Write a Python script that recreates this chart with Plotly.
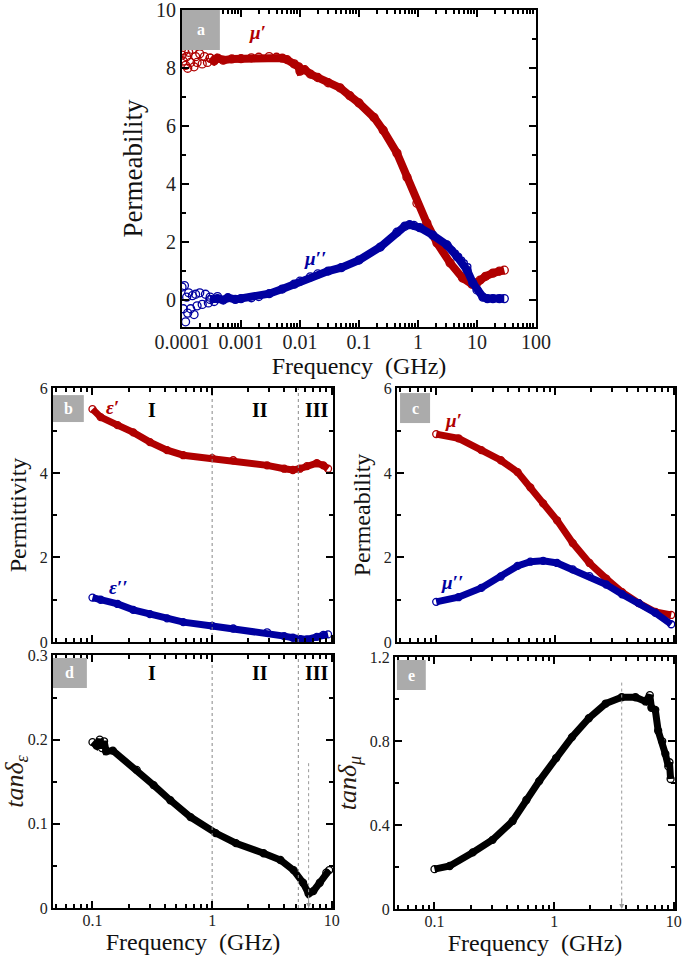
import numpy as np
import plotly.graph_objects as go

RED = "#B00000"
BLUE = "#0000A0"
SERIF = "Liberation Serif"
W, H = 685, 957

# ---------------- Panel a : permeability, wide band ----------------
a_re_noise_f = [0.0001, 0.000105, 0.00011, 0.000115, 0.00012, 0.000125, 0.00013, 0.00014,
                0.00015, 0.00016, 0.00017, 0.00018, 0.0002, 0.00022, 0.00024, 0.00027, 0.0003]
a_re_noise = [8.45, 8.25, 8.6, 8.1, 8.4, 8.0, 8.55, 8.2, 8.65, 8.05, 8.4, 8.2, 8.5, 8.15, 8.4, 8.2, 8.35]
a_re_f = [0.0003, 0.00035, 0.0004, 0.0005, 0.0007, 0.001, 0.0015, 0.002, 0.003, 0.004, 0.005,
          0.006, 0.008, 0.0095, 0.01, 0.012, 0.015, 0.02, 0.03, 0.048, 0.07, 0.1, 0.18, 0.257,
          0.44, 0.65, 0.96, 1.41, 2.1, 3.5, 5.7, 8.2, 10, 11.3, 14, 18.6, 24, 29]
a_re = [8.35, 8.25, 8.35, 8.28, 8.32, 8.33, 8.36, 8.38, 8.4, 8.38, 8.35,
        8.3, 8.15, 8.05, 7.9, 7.95, 7.8, 7.68, 7.5, 7.32, 7.05, 6.8, 6.3, 5.86,
        5.07, 4.24, 3.34, 2.66, 1.97, 1.28, 0.76, 0.55, 0.6, 0.69, 0.82, 0.93, 1.0, 1.03]

a_im_noise_f = [0.0001, 0.000105, 0.00011, 0.000115, 0.00012, 0.000125, 0.00013, 0.00014,
                0.00015, 0.00016, 0.00017, 0.00018, 0.0002, 0.00022, 0.00025, 0.00028, 0.0003,
                0.00035, 0.0004]
a_im_noise = [0.45, -0.3, 0.5, -0.75, 0.1, -0.45, 0.25, -0.3, 0.15, -0.5, 0.2, -0.2, 0.25,
              -0.15, 0.2, -0.1, 0.1, -0.05, 0.12]
a_im_f = [0.0003, 0.0004, 0.0005, 0.0006, 0.0008, 0.001, 0.0015, 0.002, 0.003, 0.005, 0.008, 0.01,
          0.015, 0.02, 0.03, 0.05, 0.1, 0.23, 0.44, 0.6, 0.72, 0.85, 1.07, 1.78, 3.1, 4.6,
          6.8, 8.5, 10, 12.6, 15, 18.6, 24, 29]
a_im = [0.02, 0.05, 0.0, 0.08, 0.02, 0.05, 0.08, 0.12, 0.22, 0.38, 0.55, 0.65,
        0.8, 0.9, 1.0, 1.12, 1.38, 1.83, 2.34, 2.55, 2.6, 2.58, 2.5, 2.24, 1.9, 1.5,
        1.03, 0.59, 0.35, 0.1, 0.05, 0.05, 0.05, 0.05]
a_im_extra_f = [3.8, 4.3, 4.9, 5.5, 6.1, 7.0]
a_im_extra = [1.72, 1.62, 1.5, 1.38, 1.28, 1.15]

# ---------------- Panel b : permittivity ----------------
b_f = [0.1, 0.117, 0.162, 0.219, 0.302, 0.42, 0.574, 1.0, 1.5, 2.88, 4.0, 4.73, 5.4, 6.2, 7.5, 8.5, 9.3]
b_eps_re = [5.51, 5.32, 5.13, 4.96, 4.73, 4.54, 4.42, 4.35, 4.30, 4.18, 4.1, 4.07, 4.1, 4.16, 4.23, 4.18, 4.10]
b_eps_im = [1.05, 1.0, 0.9, 0.76, 0.66, 0.56, 0.47, 0.38, 0.32, 0.23, 0.14, 0.1, 0.07, 0.06, 0.12, 0.17, 0.18]

# ---------------- Panel c : permeability (0.1-10 GHz) ----------------
c_f = [0.1, 0.154, 0.24, 0.35, 0.484, 0.62, 0.795, 1.04, 1.41, 1.95, 2.7, 3.67, 5.07, 7.0, 9.5]
c_mu_re = [4.92, 4.82, 4.54, 4.30, 4.02, 3.66, 3.28, 2.88, 2.34, 1.87, 1.5, 1.18, 0.92, 0.71, 0.64]
c_mu_im = [0.95, 1.06, 1.28, 1.55, 1.8, 1.9, 1.92, 1.87, 1.72, 1.56, 1.36, 1.13, 0.92, 0.69, 0.42]

# ---------------- Panel d : dielectric loss tangent ----------------
d_f = [0.1, 0.108, 0.115, 0.12, 0.125, 0.13, 0.148, 0.234, 0.324, 0.447, 0.66, 1.07, 1.58,
       2.69, 3.72, 4.79, 5.75, 6.4, 7.0, 7.94, 9.0, 9.5]
d_tan = [0.197, 0.193, 0.2, 0.19, 0.198, 0.186, 0.187, 0.164, 0.146, 0.128, 0.108, 0.089, 0.077,
         0.065, 0.057, 0.045, 0.030, 0.017, 0.02, 0.03, 0.042, 0.045]

# ---------------- Panel e : magnetic loss tangent ----------------
e_f = [0.1, 0.134, 0.209, 0.306, 0.45, 0.586, 0.75, 1.04, 1.41, 1.95, 2.7, 3.67, 4.79, 5.8,
       6.3, 6.5, 7.0, 7.4, 8.0, 8.5, 9.0, 9.2, 9.4]
e_tan = [0.19, 0.205, 0.27, 0.33, 0.42, 0.52, 0.61, 0.72, 0.82, 0.91, 0.98, 1.01, 1.01, 0.99,
         1.02, 0.96, 0.95, 0.85, 0.8, 0.74, 0.68, 0.7, 0.62]

dec_ticks = [0.0001, 0.001, 0.01, 0.1, 1, 10, 100]
dec_text = ["0.0001", "0.001", "0.01", "0.1", "1", "10", "100"]
be_ticks = [0.1, 1, 10]
be_text = ["0.1", "1", "10"]


def minor_log(e0, e1):
    return [k * 10.0 ** e for e in range(e0, e1) for k in range(2, 10)]


def dx(l, r):
    return [l / W, r / W]


def dy(t, b):
    return [1 - b / H, 1 - t / H]


fig = go.Figure()


def band(x, y, color, xa, ya, lw=7, ms=7, mode="lines+markers"):
    fig.add_trace(go.Scatter(
        x=x, y=y, mode=mode, xaxis=xa, yaxis=ya,
        line=dict(color=color, width=lw),
        marker=dict(symbol="circle-open", size=ms, color=color, line=dict(width=1.3, color=color)),
        showlegend=False, hoverinfo="skip"))


# panel a
band(a_re_noise_f, a_re_noise, RED, "x", "y", mode="markers", ms=8)
band(a_re_f, a_re, RED, "x", "y", lw=8, ms=8)
band(a_im_noise_f, a_im_noise, BLUE, "x", "y", mode="markers", ms=8)
band(a_im_f, a_im, BLUE, "x", "y", lw=8, ms=8)
band(a_im_extra_f, a_im_extra, BLUE, "x", "y", mode="markers", ms=6)
# panel b
band(b_f, b_eps_re, RED, "x2", "y2")
band(b_f, b_eps_im, BLUE, "x2", "y2")
# panel c
band(c_f, c_mu_re, RED, "x3", "y3")
band(c_f, c_mu_im, BLUE, "x3", "y3")
# panel d, e
band(d_f, d_tan, "black", "x4", "y4")
band(e_f, e_tan, "black", "x5", "y5")

# region dividers (b, d)
div_f = [1.0, 5.25]
for f in div_f:
    fig.add_trace(go.Scatter(x=[f, f], y=[0, 6], mode="lines", xaxis="x2", yaxis="y2",
                             line=dict(color="#888888", width=1, dash="dot"),
                             showlegend=False, hoverinfo="skip"))
    fig.add_trace(go.Scatter(x=[f, f], y=[0, 0.3], mode="lines", xaxis="x4", yaxis="y4",
                             line=dict(color="#888888", width=1, dash="dot"),
                             showlegend=False, hoverinfo="skip"))

# arrows
arrow_d = (6.4, 0.172)
arrow_e = (3.67, 1.08)
fig.add_trace(go.Scatter(x=[arrow_d[0]] * 2, y=[arrow_d[1], 0.0], mode="lines", xaxis="x4", yaxis="y4",
                         line=dict(color="#999999", width=1, dash="dot"), showlegend=False, hoverinfo="skip"))
fig.add_trace(go.Scatter(x=[arrow_e[0]] * 2, y=[arrow_e[1], 0.0], mode="lines", xaxis="x5", yaxis="y5",
                         line=dict(color="#999999", width=1, dash="dot"), showlegend=False, hoverinfo="skip"))

annotations = []
for xr, yr, f in [("x4", "y4", arrow_d[0]), ("x5", "y5", arrow_e[0])]:
    annotations.append(dict(x=np.log10(f), y=0, xref=xr, yref=yr, ax=0, ay=-12, text="",
                            showarrow=True, arrowhead=2, arrowsize=1, arrowwidth=1, arrowcolor="#999999"))

# axes
common = dict(showline=True, linecolor="black", linewidth=2, mirror="allticks", ticks="inside",
              ticklen=7, tickwidth=1.5, tickcolor="black", showgrid=False, zeroline=False,
              automargin=False, ticklabeloverflow="allow")
layout = dict(width=W, height=H, margin=dict(l=0, r=0, t=0, b=0),
              paper_bgcolor="white", plot_bgcolor="white", showlegend=False)

title_font_big = dict(family=SERIF, size=27, color="#111111")
title_font = dict(family=SERIF, size=24, color="#111111")
tick_big = dict(family=SERIF, size=20, color="#222222")
tick_small = dict(family=SERIF, size=16, color="#222222")

layout["xaxis"] = dict(common, type="log", range=[-4, 2], domain=dx(182, 536), anchor="y",
                       tickmode="array", tickvals=dec_ticks, ticktext=dec_text, tickangle=0,
                       tickfont=tick_big, ticklabelstandoff=-4,
                       minor=dict(ticks="inside", ticklen=4, tickcolor="black", tickvals=minor_log(-4, 2)),
                       title=dict(text="Frequency  (GHz)", font=title_font, standoff=0))
layout["yaxis"] = dict(common, range=[-0.93, 10.01], domain=dy(10, 327), anchor="x",
                       tickmode="array", tickvals=[0, 2, 4, 6, 8, 10], tickfont=tick_big,
                       minor=dict(ticks="inside", ticklen=4, tickcolor="black", tickvals=[-1, 1, 3, 5, 7, 9]),
                       title=dict(text="Permeability", font=title_font_big, standoff=6))

lower_x = dict(common, type="log", range=[-1.33, 1.01], tickmode="array", tickvals=be_ticks,
               ticktext=be_text, tickangle=0, tickfont=tick_small,
               minor=dict(ticks="inside", ticklen=4, tickcolor="black", tickvals=minor_log(-2, 1)))

layout["xaxis2"] = dict(lower_x, domain=dx(53, 333), anchor="y2", showticklabels=False)
layout["yaxis2"] = dict(common, range=[0, 6.01], domain=dy(388, 642), anchor="x2",
                        tickmode="array", tickvals=[0, 2, 4, 6], tickfont=tick_small,
                        minor=dict(ticks="inside", ticklen=4, tickcolor="black", tickvals=[1, 3, 5]),
                        title=dict(text="Permittivity", font=title_font, standoff=6))
layout["xaxis3"] = dict(lower_x, domain=dx(397, 675), anchor="y3", showticklabels=False)
layout["yaxis3"] = dict(common, range=[0, 6.01], domain=dy(388, 642), anchor="x3",
                        tickmode="array", tickvals=[0, 2, 4, 6], tickfont=tick_small,
                        minor=dict(ticks="inside", ticklen=4, tickcolor="black", tickvals=[1, 3, 5]),
                        title=dict(text="Permeability", font=title_font, standoff=6))
layout["xaxis4"] = dict(lower_x, domain=dx(53, 333), anchor="y4", ticklabelstandoff=-3,
                        title=dict(text="Frequency  (GHz)", font=title_font, standoff=0))
layout["yaxis4"] = dict(common, range=[0, 0.3005], domain=dy(655, 908), anchor="x4",
                        tickmode="array", tickvals=[0, 0.1, 0.2, 0.3], ticktext=["0", "0.1", "0.2", "0.3"],
                        tickfont=tick_small,
                        minor=dict(ticks="inside", ticklen=4, tickcolor="black", tickvals=[0.05, 0.15, 0.25]),
                        title=dict(text="<i>tanδ</i><sub><i>ε</i></sub>",
                                   font=dict(family=SERIF, size=26, color="#2a1a10"), standoff=6))
layout["xaxis5"] = dict(lower_x, domain=dx(395, 675), anchor="y5", ticklabelstandoff=-3,
                        title=dict(text="Frequency  (GHz)", font=title_font, standoff=0))
layout["yaxis5"] = dict(common, range=[0, 1.202], domain=dy(657, 909), anchor="x5",
                        tickmode="array", tickvals=[0, 0.4, 0.8, 1.2], ticktext=["0", "0.4", "0.8", "1.2"],
                        tickfont=tick_small,
                        minor=dict(ticks="inside", ticklen=4, tickcolor="black", tickvals=[0.2, 0.6, 1.0]),
                        title=dict(text="<i>tanδ</i><sub><i>μ</i></sub>",
                                   font=dict(family=SERIF, size=26, color="#2a1a10"), standoff=6))

# panel letter boxes
shapes = []
boxes = [("x", "y", 0.0, 0.107, 0.874, 1.0, "a"),
         ("x2", "y2", 0.0, 0.11, 0.866, 0.972, "b"),
         ("x3", "y3", 0.011, 0.119, 0.862, 0.98, "c"),
         ("x4", "y4", 0.0, 0.121, 0.87, 0.988, "d"),
         ("x5", "y5", 0.007, 0.11, 0.869, 0.988, "e")]
for xr, yr, x0, x1, y0, y1, lab in boxes:
    shapes.append(dict(type="rect", xref=xr + " domain", yref=yr + " domain",
                       x0=x0, x1=x1, y0=y0, y1=y1, fillcolor="#ABABAB", line=dict(width=0)))
    annotations.append(dict(xref=xr + " domain", yref=yr + " domain", x=(x0 + x1) / 2, y=(y0 + y1) / 2,
                            xanchor="center", yanchor="middle",
                            text="<b>%s</b>" % lab, showarrow=False,
                            font=dict(family=SERIF, size=16, color="white")))


def label(xr, yr, f, yv, text, color, size=19):
    annotations.append(dict(xref=xr, yref=yr, x=np.log10(f), y=yv, text=text, showarrow=False,
                            xanchor="center", yanchor="middle",
                            font=dict(family=SERIF, size=size, color=color)))


label("x", "y", 0.0019, 9.24, "<b><i>μ′</i></b>", RED)
label("x", "y", 0.0178, 1.45, "<b><i>μ′′</i></b>", BLUE)
label("x2", "y2", 0.148, 5.55, "<b><i>ε′</i></b>", RED)
label("x2", "y2", 0.162, 1.3, "<b><i>ε′′</i></b>", BLUE)
label("x3", "y3", 0.14, 5.25, "<b><i>μ′</i></b>", RED)
label("x3", "y3", 0.135, 1.4, "<b><i>μ′′</i></b>", BLUE)

region_f = [0.316, 2.5, 7.5]
region_t = ["I", "II", "III"]
for f, t in zip(region_f, region_t):
    label("x2", "y2", f, 5.5, "<b>%s</b>" % t, "black", 20)
    label("x4", "y4", f, 0.279, "<b>%s</b>" % t, "black", 20)

layout["shapes"] = shapes
layout["annotations"] = annotations
fig.update_layout(**layout)
fig.write_html("out.html", config={"displayModeBar": False},
               post_script="document.body.style.margin='0px';")
